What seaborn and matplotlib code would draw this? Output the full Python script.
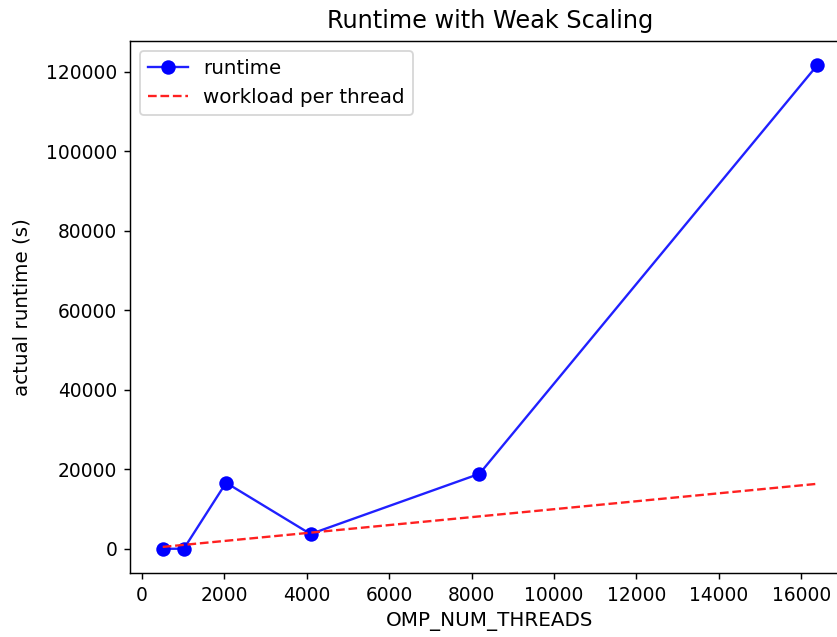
import matplotlib
matplotlib.use("Agg")
import matplotlib.pyplot as plt
import seaborn as sns
import pandas as pd

threads = [512, 1024, 2048, 4096, 8192, 16384]
runtime = [30, 60, 16650, 3750, 18900, 121700]
workload = [512, 1024, 2048, 4096, 8192, 16384]

df = pd.DataFrame({"threads": threads, "runtime": runtime, "workload": workload})

dpi = 130
fig = plt.figure(figsize=(837 / dpi, 637 / dpi), dpi=dpi)
ax = fig.add_axes([130 / 837, (637 - 573) / 637, (850 - 130) / 837, (573 - 41) / 637])

sns.lineplot(data=df, x="threads", y="runtime", ax=ax, color="#2020ff", marker="o",
             markersize=8, markeredgewidth=0, linewidth=1.3,
             label="runtime")
sns.lineplot(data=df, x="threads", y="workload", ax=ax, color="#ff2020",
             linestyle="--", linewidth=1.3,
             label="workload per thread")
ax.lines[0].set_markerfacecolor("#0000ff")

ax.set_title("Runtime with Weak Scaling", fontsize=13.3, pad=7)
ax.set_xlabel("OMP_NUM_THREADS", fontsize=11)
ax.set_ylabel("actual runtime (s)", fontsize=11, labelpad=8)
ax.tick_params(labelsize=10.3)
ax.legend(loc="upper left", fontsize=11)

fig.savefig("out.png", dpi=dpi)
